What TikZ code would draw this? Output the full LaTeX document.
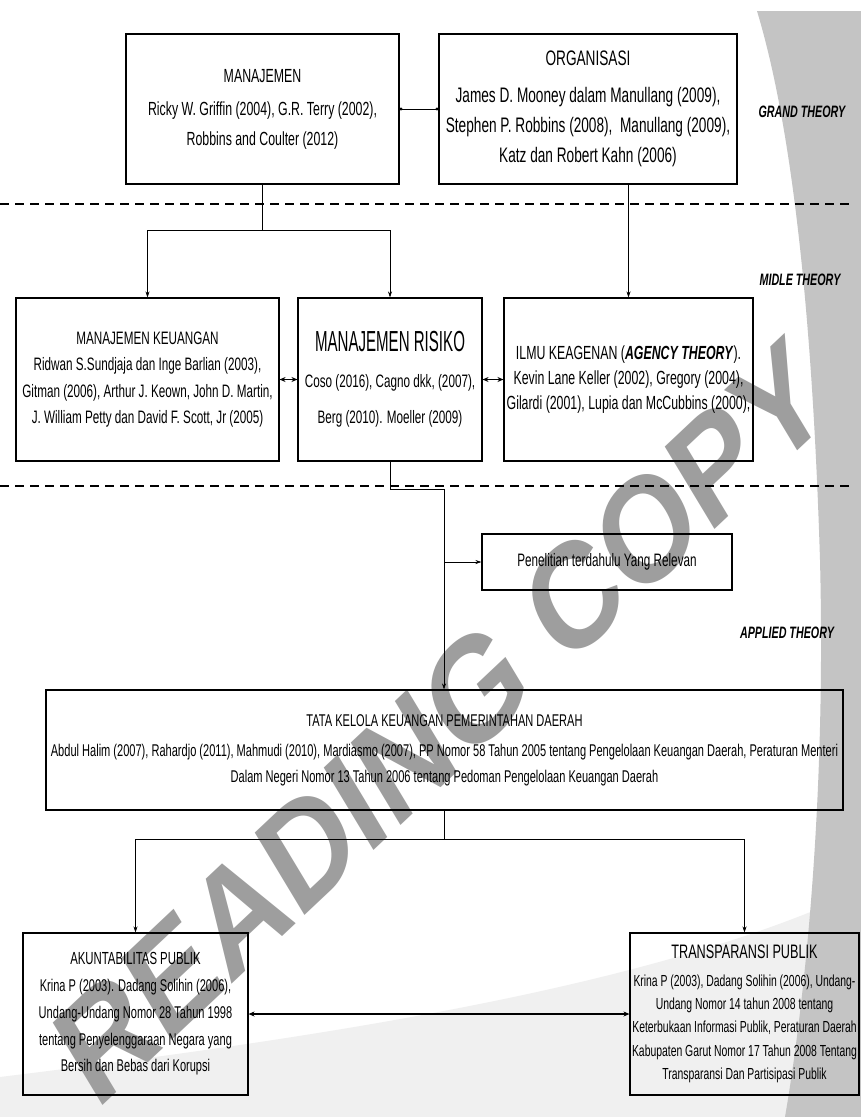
\documentclass[tikz,border=0pt]{standalone}
\usepackage{fontspec}
\setmainfont{Liberation Sans}[FakeStretch=0.65]
\newfontfamily\tightfont{Liberation Sans}[FakeStretch=0.52]
\newfontfamily\wmfont{Liberation Sans}
\usetikzlibrary{arrows.meta}
\newcommand{\fsz}[2]{\fontsize{#1}{#2}\selectfont}

\begin{document}
\begin{tikzpicture}[x=1pt, y=-1pt,
  box/.style={draw, line width=1.1pt, align=center, inner sep=0pt},
  arr/.style={-{Stealth[length=6pt,width=4pt]}, line width=0.6pt},
  dbl/.style={{Stealth[length=6pt,width=5pt]}-{Stealth[length=6pt,width=5pt]}, line width=1.2pt},
  sep/.style={line width=1.3pt, dash pattern=on 9pt off 6pt},
  lvl/.style={font=\bfseries\itshape\fsz{16.5}{20}}]
\useasboundingbox (0,0) rectangle (861,1117);
% background
\fill[white] (0,0) rectangle (861,1117);
\fill[black!6] (0,1077) .. controls (300,1040) and (650,990) .. (861,890) -- (861,1117) -- (0,1117) -- cycle;
\fill[black!23] (757,11) -- (861,11) -- (861,1117) -- (785,1117) .. controls (805,1000) and (826,800) .. (820,560) .. controls (812,300) and (790,120) .. (757,11) -- cycle;
\begin{scope}[xscale=0.8]
\node[transform shape, text=black!38, rotate=37, font=\wmfont\bfseries\fsz{150}{150}] (wm) at (552,722) {READING COPY};
\end{scope}

% grand theory
\node[box, minimum width=273pt, minimum height=150pt, font=\fsz{19}{30}] (man) at (262.5,109) {MANAJEMEN\\[3pt]Ricky W. Griffin (2004), G.R. Terry (2002),\\Robbins and Coulter (2012)};
\node[box, minimum width=298pt, minimum height=150pt, font=\fsz{21}{30}] (org) at (588,109) {ORGANISASI\\[7pt]James D. Mooney dalam Manullang (2009),\\Stephen P. Robbins (2008),\ \ Manullang (2009),\\Katz dan Robert Kahn (2006)};
\node[lvl] (gt) at (802,112) {GRAND THEORY};
\draw[sep] (0,204) -- (851,204);

% midle theory
\node[lvl] (mt) at (800,280) {MIDLE THEORY};
\node[box, minimum width=263pt, minimum height=163pt, font=\fsz{18}{26.5}] (keu) at (147.5,379.5) {MANAJEMEN KEUANGAN\\Ridwan S.Sundjaja dan Inge Barlian (2003),\\Gitman (2006), Arthur J. Keown, John D. Martin,\\J. William Petty dan David F. Scott, Jr (2005)};
\node[box, minimum width=184pt, minimum height=163pt, font=\fsz{18}{36}] (ris) at (390,379.5) {{\tightfont\fsz{29}{36}MANAJEMEN RISIKO}\\Coso (2016), Cagno dkk, (2007),\\Berg (2010). Moeller (2009)};
\node[box, minimum width=249pt, minimum height=163pt, font=\fsz{19}{25}] (agen) at (628.5,379.5) {ILMU KEAGENAN (\textbf{\textit{AGENCY THEORY}}).\\Kevin Lane Keller (2002), Gregory (2004),\\Gilardi (2001), Lupia dan McCubbins (2000),};
\draw[sep] (0,486) -- (851,486);

% applied theory
\node[box, minimum width=250pt, minimum height=56pt, font=\fsz{18}{22}] (pen) at (607,562) {Penelitian terdahulu Yang Relevan};
\node[lvl] (at) at (787,633) {APPLIED THEORY};
\node[box, minimum width=797pt, minimum height=120pt, font=\fsz{17}{26}] (tata) at (444.5,750) {TATA KELOLA KEUANGAN PEMERINTAHAN DAERAH\\[4pt]Abdul Halim (2007), Rahardjo (2011), Mahmudi (2010), Mardiasmo (2007), PP Nomor 58 Tahun 2005 tentang Pengelolaan Keuangan Daerah, Peraturan Menteri\\Dalam Negeri Nomor 13 Tahun 2006 tentang Pedoman Pengelolaan Keuangan Daerah};
\node[box, minimum width=225pt, minimum height=162pt, font=\fsz{17}{26.7}] (akun) at (135.5,1014) {{\fsz{17.5}{26.7}AKUNTABILITAS PUBLIK}\\Krina P (2003). Dadang Solihin (2006),\\Undang-Undang Nomor 28 Tahun 1998\\tentang Penyelenggaraan Negara yang\\Bersih dan Bebas dari Korupsi};
\node[box, minimum width=229pt, minimum height=162pt, font=\fsz{16}{23.3}] (trans) at (744.5,1014) {{\fsz{19.5}{23.3}TRANSPARANSI PUBLIK}\\[4pt]Krina P (2003), Dadang Solihin (2006), Undang-\\Undang Nomor 14 tahun 2008 tentang\\Keterbukaan Informasi Publik, Peraturan Daerah\\Kabupaten Garut Nomor 17 Tahun 2008 Tentang\\Transparansi Dan Partisipasi Publik};

% connectors
\draw[{Circle[length=3pt]}-{Circle[length=3pt]}, line width=0.8pt] (man) -- (org);
\coordinate (j1) at (262.5,230);
\draw[line width=0.6pt] (man) -- (j1);
\draw[line width=0.6pt] (keu.north |- j1) -- (ris.north |- j1);
\draw[arr] (keu.north |- j1) -- (keu);
\draw[arr] (ris.north |- j1) -- (ris);
\draw[arr] (agen.north |- org.south) -- (agen);
\draw[dbl, line width=1pt] (keu) -- (ris);
\draw[dbl, line width=1pt] (ris) -- (agen);
\coordinate (j2) at (444,489);
\draw[line width=0.6pt] (ris) |- (j2);
\draw[arr] (j2) -- (j2 |- tata.north);
\draw[arr] (j2 |- pen.west) -- (pen);
\coordinate (j3) at (444.5,839);
\draw[line width=0.6pt] (tata) -- (j3);
\draw[line width=0.6pt] (akun.north |- j3) -- (trans.north |- j3);
\draw[arr] (akun.north |- j3) -- (akun);
\draw[arr] (trans.north |- j3) -- (trans);
\draw[dbl] (akun) -- (trans);
\end{tikzpicture}
\end{document}
